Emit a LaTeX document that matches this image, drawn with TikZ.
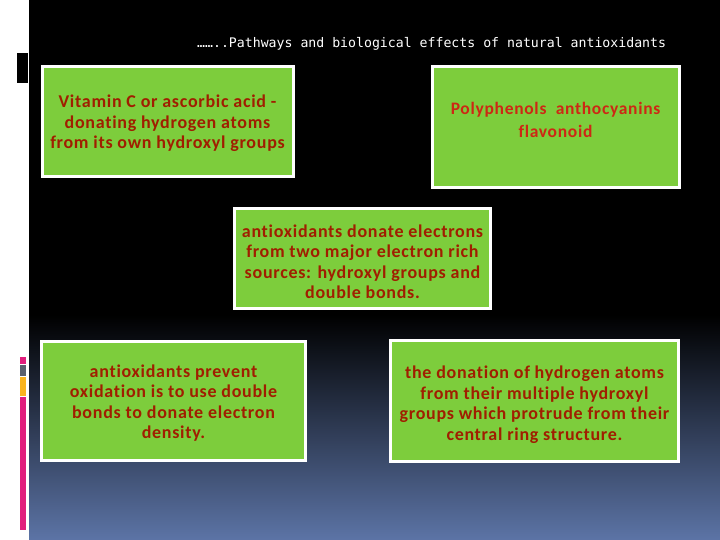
\documentclass[tikz,border=0pt]{standalone}
\usepackage{fontspec}
\setmainfont{Carlito}
\newfontfamily\titlefont{DejaVu Sans Mono}
\newfontfamily\boxfont[LetterSpace=4,Ligatures={NoCommon}]{Carlito}
\definecolor{boxgreen}{RGB}{125,205,60}
\definecolor{txtred}{RGB}{160,30,0}
\definecolor{txtred2}{RGB}{205,40,20}
\definecolor{bgblue}{RGB}{92,116,166}
\definecolor{barpink}{RGB}{225,30,125}
\definecolor{bargray}{RGB}{90,96,110}
\definecolor{barorange}{RGB}{250,180,30}
\tikzset{
  box/.style={draw=white, line width=3pt, fill=boxgreen, inner sep=0pt},
  boxtext/.style={align=center, font=\boxfont\bfseries\fontsize{18}{20.5}\selectfont, text=txtred, inner sep=0pt},
}
\begin{document}
\begin{tikzpicture}[x=1pt,y=-1pt]
\useasboundingbox (0,0) rectangle (720,540);
% background
\fill[white] (0,0) rectangle (720,540);
\fill[black] (29,0) rectangle (720,316);
\shade[top color=black, bottom color=bgblue] (29,315) rectangle (720,540);
% decorations left
\fill[black] (17,53) rectangle (28,83);
\fill[barpink] (20,357) rectangle (26,364);
\fill[bargray] (20,365) rectangle (26,376);
\fill[barorange] (20,377) rectangle (26,396);
\fill[barpink] (20,397) rectangle (26,530);
% title
\node[text=white, font=\titlefont\fontsize{13.2}{15}\selectfont, anchor=west, inner sep=0pt] (title) at (197,44) {……..Pathways and biological effects of natural antioxidants};
% boxes
\node[box, minimum width=251pt, minimum height=110pt] (b1) at (167.5,121.5) {};
\node[boxtext] (t1) at ([yshift=-2pt]b1.center) {Vitamin C or ascorbic acid -\\donating hydrogen atoms\\from its own hydroxyl groups};
\node[box, minimum width=247pt, minimum height=121pt] (b2) at (555.5,127) {};
\node[boxtext, text=txtred2, font=\boxfont\bfseries\fontsize{17.5}{23}\selectfont, yshift=7.5pt] (t2) at (b2.center) {Polyphenols~ anthocyanins\\flavonoid};
\node[box, minimum width=256pt, minimum height=100pt] (b3) at (362.5,258.5) {};
\node[boxtext] (t3) at ([yshift=-3pt]b3.center) {antioxidants donate electrons\\from two major electron rich\\sources: hydroxyl groups and\\double bonds.};
\node[box, minimum width=264pt, minimum height=119pt] (b4) at (173.5,401) {};
\node[boxtext] (t4) at ([yshift=-2pt]b4.center) {antioxidants prevent\\oxidation is to use double\\bonds to donate electron\\density.};
\node[box, minimum width=288pt, minimum height=121pt] (b5) at (534.5,401) {};
\node[boxtext] (t5) at ([yshift=-3.5pt]b5.center) {the donation of hydrogen atoms\\from their multiple hydroxyl\\groups which protrude from their\\central ring structure.};
\end{tikzpicture}
\end{document}
